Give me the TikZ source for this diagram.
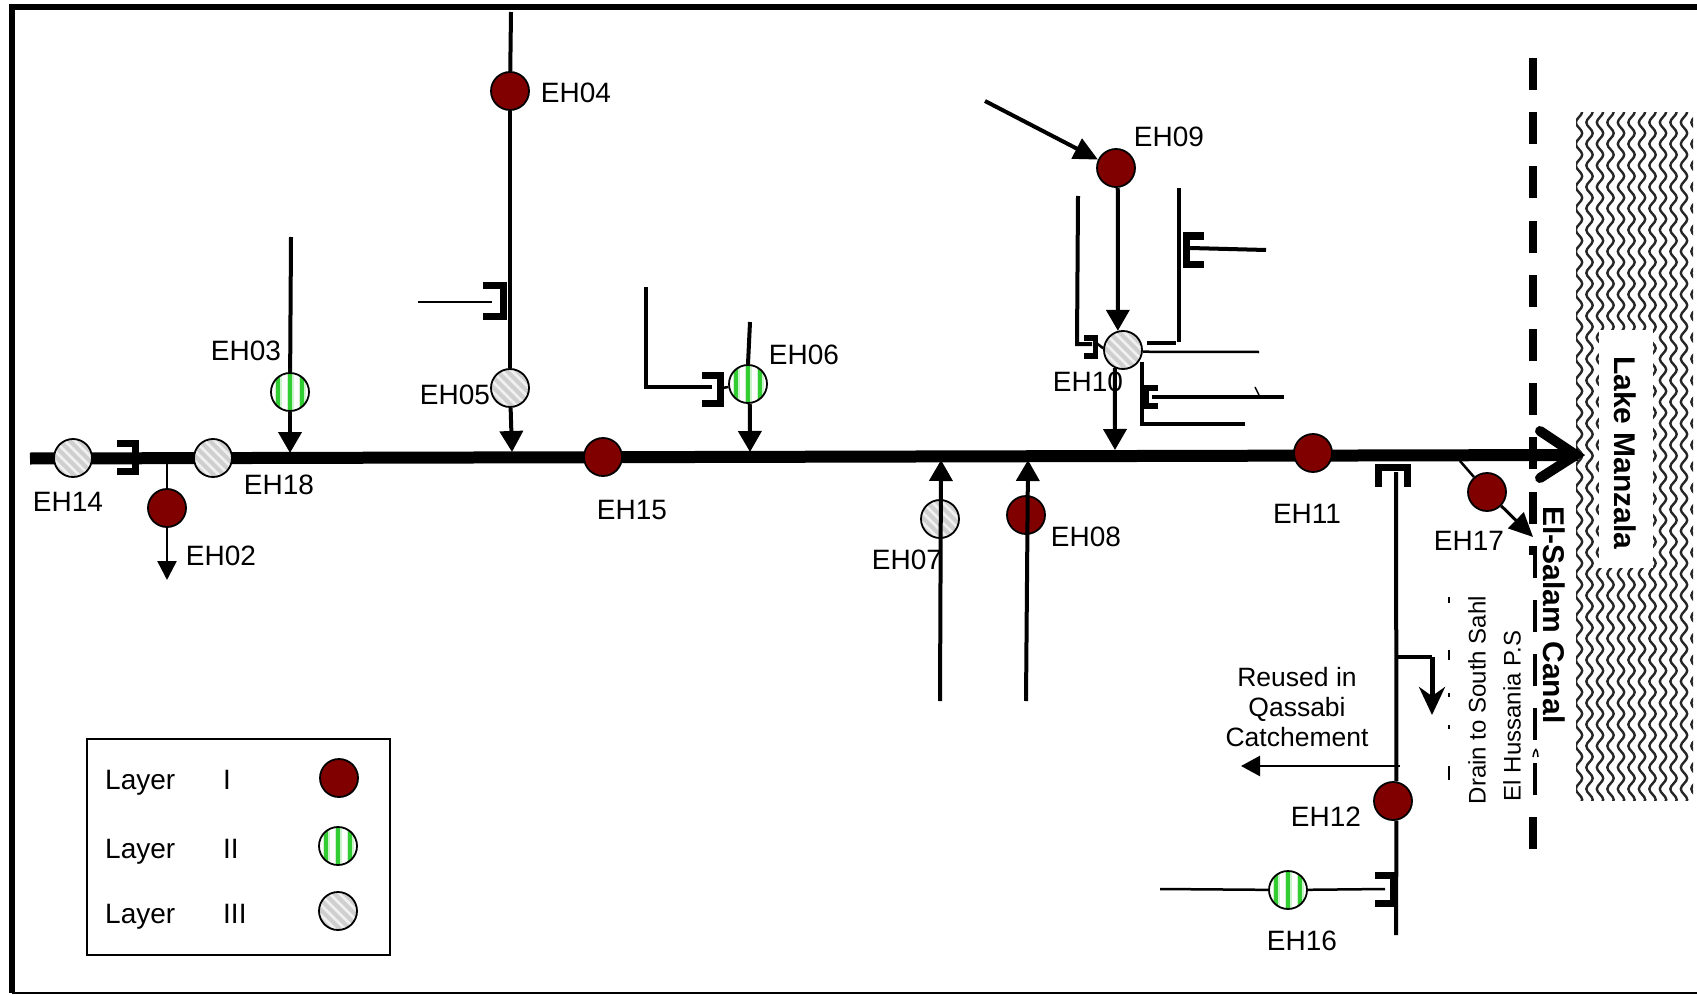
\documentclass[tikz,border=0pt]{standalone}
\usepackage{fontspec}
\setmainfont{Liberation Sans}
\usetikzlibrary{arrows.meta,decorations.pathmorphing}
\definecolor{layerred}{RGB}{128,0,0}
\definecolor{layergreen}{RGB}{50,205,50}
\tikzset{
  station/.style={circle, draw, line width=1.8pt, minimum size=38pt, inner sep=0pt},
  layerone/.style={station, fill=layerred},
  layertwo/.style={station, fill=white, path picture={
    \begin{scope}[shift={(path picture bounding box.center)}]
      \foreach \sx in {-12,0,12} {
        \draw[line width=7pt, layergreen!25] (\sx,-20) -- (\sx,20);
        \draw[line width=4pt, layergreen] (\sx,-20) -- (\sx,20);
      }
    \end{scope}}},
  layerthree/.style={station, fill=gray!12, path picture={
    \begin{scope}[shift={(path picture bounding box.center)}]
      \foreach \sx in {-36,-26,...,36}
        \draw[line width=4pt, gray!38] (\sx-20,-20) -- (\sx+20,20);
    \end{scope}}},
  lab/.style={inner sep=0pt, font=\fontsize{28}{30}\selectfont},
  smalllab/.style={inner sep=0pt, font=\fontsize{24}{28}\selectfont},
  boldlab/.style={inner sep=0pt, font=\fontsize{30}{32}\selectfont\bfseries},
  drain/.style={line width=4pt},
  thindrain/.style={line width=2.5pt},
  flow/.style={line width=4pt, -{Triangle[width=23pt,length=21pt]}},
  thinflow/.style={line width=2.5pt, -{Triangle[width=19pt,length=19pt]}},
  pics/gate/.style={code={
    \draw[line width=#1pt] (-17,-14) -- (1,-14) -- (1,14) -- (-17,14);
  }}
}
\begin{document}
\begin{tikzpicture}[x=1pt, y=-1pt]
  \useasboundingbox (0,0) rectangle (1697,995);

  % Frame
  \draw[line width=6pt] (1697,7) -- (12,7) -- (12,993);
  \draw[line width=2pt] (12,993) -- (1697,993);

  % Lake
  \begin{scope}
    \clip (1576,113) rectangle (1693,800);
    \foreach \lx in {0,...,11}
      \draw[line width=2.4pt, black!85, decorate, decoration={snake, segment length=21.5pt, amplitude=3.2pt}]
        (1579+10.5*\lx,105) -- (1579+10.5*\lx,815);
  \end{scope}
  \fill[white] (1599,330) rectangle (1653,568);
  \node[boldlab, rotate=-90] (lake) at (1625,453) {Lake Manzala};

  % Canal
  \foreach \dy in {0,...,14}
    \fill (1529,58+54.2*\dy) rectangle (1537,{min(90+54.2*\dy,982)});
  \fill[white] (1445,555) rectangle (1533,797);
  \fill[white] (1533,741) rectangle (1538,762);
  \draw[line width=1.5pt] (1533,757) .. controls (1535,747) and (1537,747) .. (1538,757);
  \foreach \my/\ny in {597/603, 650/660, 693/697, 725/729, 766/780}
    \draw[line width=1.5pt] (1449,\my) -- (1449,\ny);
  \node[boldlab, rotate=-90] (canal) at (1554,615) {El-Salam Canal};

  % Main drain
  \coordinate (mainstart) at (30,458.5);
  \coordinate (mainend) at (1578,455);
  \draw[line width=12pt] (mainstart) -- (mainend);
  \draw[line width=10pt, line cap=round] (1540,431) -- (1576,455) -- (1540,478);

  % Stations
  \node[layerthree] (eh14) at (73,458) {};
  \node[layerthree] (eh18) at (213,458) {};
  \node[layerone] (eh02) at (167,508) {};
  \node[layertwo] (eh03) at (290,392) {};
  \node[layerone] (eh04) at (510,91) {};
  \node[layerthree] (eh05) at (510,388) {};
  \node[layerone] (eh15) at (603,457) {};
  \node[layertwo] (eh06) at (748,384) {};
  \node[layerthree] (eh07) at (940,519) {};
  \node[layerone] (eh08) at (1026,515) {};
  \node[layerone] (eh09) at (1116,168) {};
  \node[layerthree] (eh10) at (1123,350) {};
  \node[layerone] (eh11) at (1313,453) {};
  \node[layerone] (eh12) at (1393,801) {};
  \node[layertwo] (eh16) at (1288,890) {};
  \node[layerone] (eh17) at (1487,492) {};

  % Station labels
  \node[lab] (lab14) at (68,502) {EH14};
  \node[lab] (lab18) at (279,485) {EH18};
  \node[lab] (lab02) at (221,556) {EH02};
  \node[lab] (lab03) at (246,351) {EH03};
  \node[lab] (lab04) at (576,93) {EH04};
  \node[lab] (lab05) at (455,395) {EH05};
  \node[lab] (lab15) at (632,510) {EH15};
  \node[lab] (lab06) at (804,355) {EH06};
  \node[lab] (lab07) at (907,560) {EH07};
  \node[lab] (lab08) at (1086,537) {EH08};
  \node[lab] (lab09) at (1169,137) {EH09};
  \node[lab] (lab10) at (1088,382) {EH10};
  \node[lab] (lab11) at (1307,514) {EH11};
  \node[lab] (lab17) at (1469,541) {EH17};
  \node[lab] (lab12) at (1326,817) {EH12};
  \node[lab] (lab16) at (1302,941) {EH16};

  % Free ends
  \coordinate (top03) at (291,237);
  \coordinate (join03) at (290,453);
  \coordinate (top04) at (511,12);
  \coordinate (join05) at (512,452);
  \coordinate (top06) at (750,322);
  \coordinate (join06) at (750,452);
  \coordinate (foot07) at (940,701);
  \coordinate (join07) at (941,460);
  \coordinate (foot08) at (1026,701);
  \coordinate (join08) at (1028,460);
  \coordinate (from09) at (985,101);
  \coordinate (join10) at (1115,450);
  \coordinate (tap02) at (167,458);
  \coordinate (end02) at (167,580);
  \coordinate (tap17) at (1460,461);
  \coordinate (end17) at (1533,537);

  % Side drains
  \draw[thindrain] (tap02) -- (eh02);
  \draw[thinflow] (eh02) -- (end02);
  \draw[drain] (top03) -- (eh03);
  \draw[flow] (eh03) -- (join03);
  \draw[drain] (top04) -- (eh04);
  \draw[drain] (eh04) -- (eh05);
  \draw[flow] (eh05) -- (join05);
  \draw[drain] (top06) -- (eh06.north);
  \draw[flow] (eh06.-85) -- (join06);
  \draw[flow] (foot07) -- (join07);
  \draw[flow] (foot08) -- (join08);
  \draw[line width=4pt, -{Triangle[width=22pt,length=24pt]}] (from09) -- (eh09.155);
  \draw[flow] (eh09.-85) -- (eh10.105);
  \draw[flow] (eh10.246) -- (join10);
  \draw[thindrain] (tap17) -- (eh17);
  \draw[line width=3pt, -{Triangle[width=22pt,length=24pt]}] (eh17) -- (end17);

  % Gates
  \pic at (134,457) {gate=7};
  \pic[scale=1.1] at (502,301) {gate=7};
  \pic at (719,389) {gate=7};
  \pic[rotate=180] at (1187,250) {gate=7};
  \pic[scale=.65] at (1095,347) {gate=5.5};
  \pic[rotate=180, scale=.65] at (1147,397) {gate=5.5};
  \pic[rotate=90, scale=1.05] at (1393,469) {gate=7};
  \pic at (1392,889) {gate=7};

  % Pipes round EH10
  \coordinate (pipea) at (1078,196);
  \coordinate (pipeb) at (1077,344);
  \coordinate (pipec) at (1179,188);
  \coordinate (piped) at (1179,342);
  \coordinate (pipee) at (1142,362);
  \coordinate (pipef) at (1142,424);
  \coordinate (pipeg) at (1245,424);
  \draw[drain] (pipea) -- (pipeb) -- (1092,344);
  \draw[thindrain] (1095,342) -- (eh10.175);
  \draw[drain] (pipec) -- (piped);
  \draw[drain] (1147,343) -- (1176,343);
  \draw[thindrain] (eh10.-5) -- (1259,352);
  \draw[drain] (pipee) -- (pipef) -- (pipeg);
  \draw[drain] (1190,248) -- (1266,250);
  \draw[drain] (1152,397) -- (1284,397);
  \draw[line width=1.5pt] (1255,387) -- (1259,395);

  % Pipes at the other gates
  \draw[thindrain] (418,302) -- (492,302);
  \draw[drain] (646,287) -- (646,387) -- (712,387);
  \draw[thindrain] (722,388) -- (eh06);

  % Branch to the south
  \coordinate (gatetop) at (1396,472);
  \coordinate (foot12) at (1396,935);
  \coordinate (bend) at (1432,657);
  \coordinate (end13) at (1432,715);
  \coordinate (reuse) at (1241,766);
  \draw[drain] (gatetop) -- (eh12.80);
  \draw[drain] (eh12.-80) -- (foot12);
  \draw[drain] (1396,657) -- (bend);
  \draw[line width=5pt, -{Stealth[width=26pt,length=28pt]}] (bend) -- (end13);
  \draw[line width=2.5pt, -{Triangle[width=20pt,length=19pt]}] (1400,766) -- (reuse);
  \draw[thindrain] (eh16) -- (1385,889);
  \draw[thindrain] (1160,889) -- (eh16);

  % Notes
  \node[inner sep=0pt, align=center, font=\fontsize{26.5}{30}\selectfont] (reusenote) at (1297,707) {Reused in\\Qassabi\\Catchement};
  \node[smalllab, rotate=90] (drainnote) at (1477,700) {Drain to South Sahl};
  \node[smalllab, rotate=90] (husnote) at (1512,716) {El Hussania P.S};

  % Legend
  \draw[line width=2pt] (87,739) rectangle (390,955);
  \node[lab, anchor=base west] (layera) at (105,789) {Layer};
  \node[lab, anchor=base west] (layerb) at (105,858) {Layer};
  \node[lab, anchor=base west] (layerc) at (105,923) {Layer};
  \node[lab, anchor=base west] (numa) at (223,789) {I};
  \node[lab, anchor=base west] (numb) at (223,858) {II};
  \node[lab, anchor=base west] (numc) at (223,923) {III};
  \node[layerone] (keya) at (339,778) {};
  \node[layertwo] (keyb) at (338,846) {};
  \node[layerthree] (keyc) at (338,911) {};
\end{tikzpicture}
\end{document}
